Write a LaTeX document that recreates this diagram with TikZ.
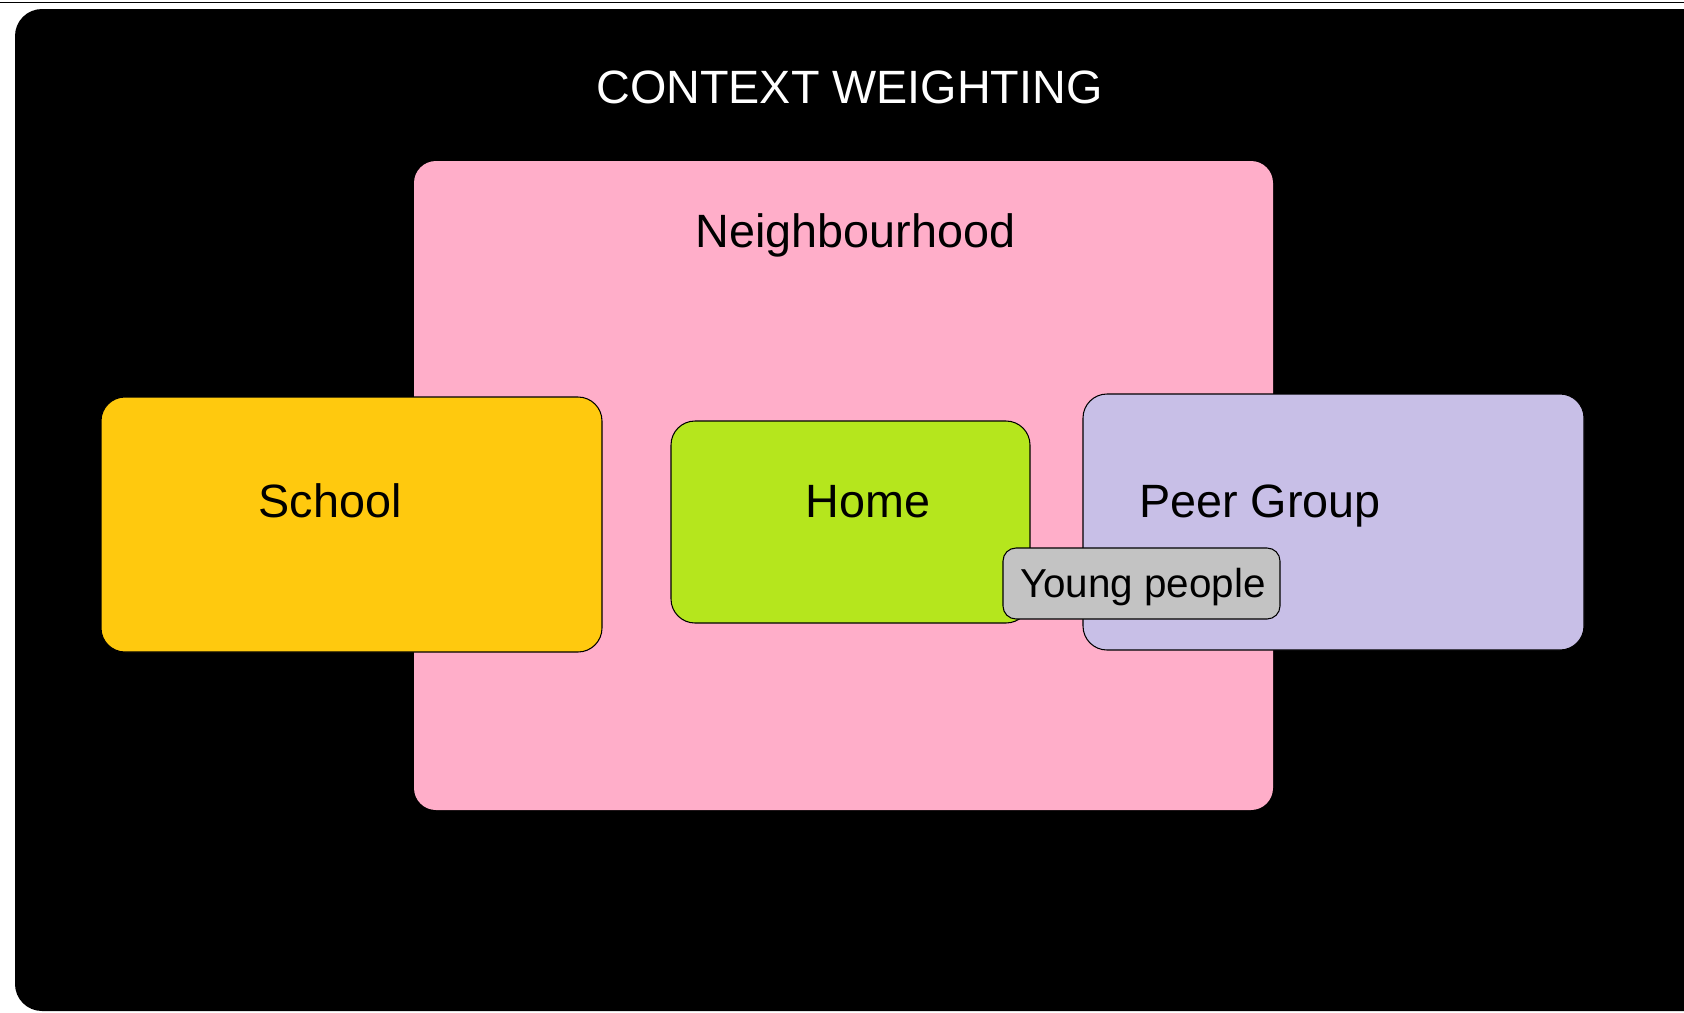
\documentclass[tikz,border=0pt]{standalone}
\usepackage{fontspec}
\setmainfont{Liberation Sans}
\usetikzlibrary{fit, positioning}
\definecolor{nbh_pink}{RGB}{255,174,201}
\definecolor{school_gold}{RGB}{255,201,14}
\definecolor{home_lime}{RGB}{181,230,29}
\definecolor{peer_lavender}{RGB}{200,191,231}
\definecolor{young_grey}{RGB}{195,195,195}
\tikzset{
    back_panel/.style={rectangle, rounded corners=0.54cm, inner sep=0pt, fill=black},
    area_box/.style={rectangle, rounded corners=0.44cm, inner sep=0pt, fill=nbh_pink},
    context_box/.style={rectangle, rounded corners=0.48cm, inner sep=0pt, draw=black, line width=0.6pt},
    people_box/.style={rectangle, rounded corners=0.26cm, inner sep=0pt, draw=black, line width=0.6pt, fill=young_grey},
    box_text/.style={anchor=base, inner sep=0pt, text=black, font=\fontsize{26.6}{32}\selectfont},
    small_text/.style={anchor=base, inner sep=0pt, text=black, font=\fontsize{23}{28}\selectfont},
    title_text/.style={anchor=base, inner sep=0pt, text=white, font=\fontsize{26.6}{32}\selectfont},
}

\begin{document}
\begin{tikzpicture}[x=0.02cm, y=-0.02cm]
      \useasboundingbox (0,0) rectangle (1684,1012);
      \clip (0,0) rectangle (1684,1012);
      \draw [line width=0.9pt] (0,2.5) -- (1684,2.5);

      \node (panel) [back_panel, fit={(15,9) (1740,1011)}]{};
      \node (title) [title_text] at (849.5,103){CONTEXT WEIGHTING};

      \node (neighbourhood) [area_box, fit={(414,161) (1273,810)}]{};
      \node (neighbourhood_text) [box_text] at (855.5,247){Neighbourhood};

      \node (school) [context_box, fill=school_gold, fit={(101,397) (602,652)}]{};
      \node (home) [context_box, fill=home_lime, fit={(671,421) (1030,623)}]{};
      \node (peer_group) [context_box, fill=peer_lavender, fit={(1083,394) (1584,650)}]{};

      \node (school_text) [box_text] at (330,517){School};
      \node (home_text) [box_text] at (868,517){Home};
      \node (peer_group_text) [box_text] at (1260,517){Peer Group};

      \node (young_people) [people_box, fit={(1003,548) (1280,619)}]{};
      \node (young_people_text) [small_text] at (1143,597){Young people};
   \end{tikzpicture}
\end{document}
